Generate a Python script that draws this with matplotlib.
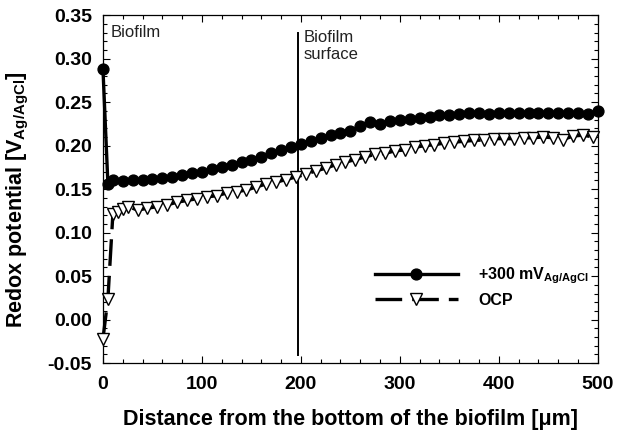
#!/usr/bin/env python3
# -*- coding: utf-8 -*-

import matplotlib
matplotlib.use("Agg")
import matplotlib.pyplot as plt
from matplotlib.ticker import MultipleLocator, FormatStrFormatter

# 数据：距生物膜底部的距离 (um) 与氧化还原电位 (V vs Ag/AgCl)
x_poised = [0, 5, 10, 20, 30, 40, 50, 60, 70, 80, 90, 100, 110, 120, 130, 140,
            150, 160, 170, 180, 190, 200, 210, 220, 230, 240, 250, 260, 270, 280,
            290, 300, 310, 320, 330, 340, 350, 360, 370, 380, 390, 400, 410, 420,
            430, 440, 450, 460, 470, 480, 490, 500]
y_poised = [0.288, 0.156, 0.160, 0.159, 0.160, 0.160, 0.162, 0.163, 0.164, 0.166,
            0.168, 0.170, 0.173, 0.176, 0.178, 0.181, 0.184, 0.187, 0.191, 0.195,
            0.198, 0.202, 0.205, 0.209, 0.212, 0.215, 0.217, 0.223, 0.227, 0.225,
            0.228, 0.229, 0.231, 0.232, 0.233, 0.235, 0.235, 0.236, 0.237, 0.237,
            0.236, 0.237, 0.237, 0.237, 0.237, 0.237, 0.238, 0.237, 0.237, 0.237,
            0.236, 0.240]

x_ocp = [0, 5, 10, 15, 20, 25, 35, 45, 55, 65, 75, 85, 95, 105, 115, 125, 135,
         145, 155, 165, 175, 185, 195, 205, 215, 225, 235, 245, 255, 265, 275,
         285, 295, 305, 315, 325, 335, 345, 355, 365, 375, 385, 395, 405, 415,
         425, 435, 445, 455, 465, 475, 485, 495]
y_ocp = [-0.022, 0.024, 0.121, 0.124, 0.127, 0.130, 0.126, 0.128, 0.130, 0.132,
         0.135, 0.137, 0.139, 0.141, 0.1425, 0.1455, 0.147, 0.149, 0.1525, 0.156,
         0.158, 0.161, 0.164, 0.167, 0.171, 0.174, 0.178, 0.181, 0.184, 0.187,
         0.190, 0.191, 0.194, 0.195, 0.198, 0.200, 0.201, 0.203, 0.204, 0.205,
         0.206, 0.2065, 0.208, 0.208, 0.208, 0.209, 0.209, 0.210, 0.209, 0.207,
         0.211, 0.212, 0.210]

surface_x = 197
label_poised = r"+300 mV$_{\mathbf{Ag/AgCl}}$"
label_ocp = "OCP"

# 字体设置
plt.rcParams['font.family'] = ['Liberation Sans', 'DejaVu Sans']
plt.rcParams['mathtext.fontset'] = 'custom'
plt.rcParams['mathtext.rm'] = 'Liberation Sans'
plt.rcParams['mathtext.bf'] = 'Liberation Sans:bold'

fig = plt.figure(figsize=(6.24, 4.44), dpi=100)
ax = fig.add_axes([0.165, 0.182, 0.793, 0.784])

ax.plot(x_poised, y_poised, '-', color='black', lw=2.4, marker='o',
        markersize=7.8, markerfacecolor='black', markeredgecolor='black',
        label=label_poised, zorder=3, clip_on=False)
ax.plot(x_ocp, y_ocp, color='black', lw=2.4, dashes=(8, 3), marker='v',
        markersize=8.5, markerfacecolor='white', markeredgecolor='black',
        markeredgewidth=1.0, label=label_ocp, zorder=3, clip_on=False)

# 生物膜表面位置
ax.plot([surface_x, surface_x], [-0.041, 0.329], color='black', lw=1.4, zorder=2)
ax.text(8, 0.330, "Biofilm", fontsize=12, va='center', ha='left', color='#222222')
ax.text(surface_x + 6, 0.333, "Biofilm\nsurface", fontsize=12, va='top',
        ha='left', color='#222222', linespacing=1.15)

ax.set_xlim(0, 500)
ax.set_ylim(-0.05, 0.35)
ax.xaxis.set_major_locator(MultipleLocator(100))
ax.xaxis.set_minor_locator(MultipleLocator(20))
ax.yaxis.set_major_locator(MultipleLocator(0.05))
ax.yaxis.set_minor_locator(MultipleLocator(0.01))
ax.yaxis.set_major_formatter(FormatStrFormatter('%.2f'))
ax.tick_params(which='both', direction='in', top=True, right=True, width=0.8)
ax.tick_params(which='major', length=5, labelsize=14)
ax.tick_params(axis='x', which='major', pad=9)
ax.tick_params(axis='y', which='major', pad=8)
ax.tick_params(which='minor', length=3)
for lbl in ax.get_xticklabels() + ax.get_yticklabels():
    lbl.set_fontweight('bold')
for sp in ax.spines.values():
    sp.set_linewidth(0.9)

ax.set_xlabel("Distance from the bottom of the biofilm [μm]", fontsize=15.5,
              fontweight='bold', labelpad=12)
ax.set_ylabel(r"Redox potential [V$_{\mathbf{Ag/AgCl}}$]", fontsize=15.5,
              fontweight='bold', labelpad=11)
ax.yaxis.set_label_coords(-0.145, 0.47)

leg = ax.legend(loc='center right', bbox_to_anchor=(1.012, 0.22), frameon=False,
                handlelength=5.2, numpoints=1, handletextpad=1.3,
                labelspacing=0.45, prop={'weight': 'bold', 'size': 11.5})

fig.savefig("out.png", dpi=100)
